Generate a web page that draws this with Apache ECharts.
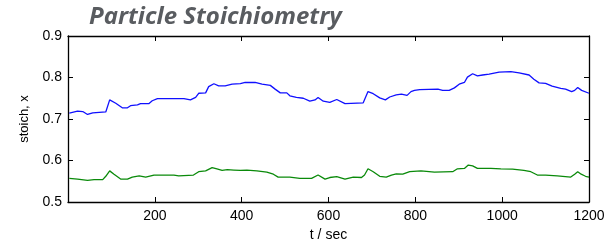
<!DOCTYPE html>
<html>
<head>
<meta charset="utf-8">
<script src="https://cdn.jsdelivr.net/npm/echarts@6/dist/echarts.min.js"></script>
<style>
html, body { margin: 0; padding: 0; background: #fff; }
#chartmain { width: 613px; height: 242px; }
</style>
</head>
<body>
<div id="chartmain"></div>
<script>
// values
var xTicks = [0, 200, 400, 600, 800, 1000, 1200];
var yTicks = [0.5, 0.6, 0.7, 0.8, 0.9];

var tBlue = [3, 22, 34, 45, 57, 87, 96, 110, 125, 137, 144, 160, 167, 186, 194, 206, 267, 282, 294, 301, 317, 324, 336, 347, 362, 378, 397,
	408, 431, 447, 466, 477, 489, 504, 511, 526, 542, 557, 569, 576, 588, 603, 619, 638, 680, 691, 703, 718, 731, 741, 756, 768, 781, 790,
	798, 810, 852, 863, 878, 890, 901, 913, 920, 932, 943, 955, 970, 993, 1020, 1039, 1062, 1073, 1085, 1100, 1115, 1135, 1146, 1160,
	1167, 1174, 1183, 1200];
var vBlue = [0.714, 0.719, 0.718, 0.711, 0.715, 0.717, 0.746, 0.738, 0.727, 0.727, 0.732, 0.734, 0.737, 0.737, 0.744, 0.749, 0.749, 0.746,
	0.752, 0.762, 0.763, 0.778, 0.785, 0.780, 0.780, 0.784, 0.785,
	0.788, 0.788, 0.784, 0.781, 0.772, 0.763, 0.763, 0.756, 0.752, 0.750, 0.743, 0.746, 0.752, 0.743, 0.740, 0.747, 0.737, 0.739, 0.766,
	0.761, 0.751, 0.746, 0.753, 0.758, 0.760, 0.757, 0.766,
	0.769, 0.771, 0.772, 0.769, 0.769, 0.775, 0.784, 0.788, 0.801, 0.809, 0.804, 0.806, 0.808, 0.813, 0.814, 0.811, 0.806, 0.796, 0.787,
	0.786, 0.779, 0.774, 0.772, 0.766, 0.769, 0.776, 0.769, 0.762];

var tGreen = [3, 22, 45, 60, 80, 87, 96, 106, 122, 137, 148, 164, 179, 198, 244, 255, 289, 301, 317, 332, 343, 355, 367, 382, 397, 412,
	435, 458, 473, 484, 511, 534, 561, 576, 592, 603, 619, 638, 657, 676, 683, 691, 703, 718, 733, 745, 756, 771, 787, 813, 844, 886,
	897, 913, 922, 932, 943, 955, 974, 997, 1024, 1050, 1066, 1081, 1100, 1127, 1158, 1167, 1174, 1182, 1192, 1200];
var vGreen = [0.557, 0.555, 0.552, 0.554, 0.554, 0.562, 0.575, 0.567, 0.555, 0.555, 0.560, 0.563, 0.560, 0.565, 0.565, 0.563, 0.565,
	0.573, 0.575, 0.583, 0.580, 0.576, 0.578, 0.577, 0.576, 0.577,
	0.575, 0.572, 0.567, 0.560, 0.560, 0.557, 0.557, 0.565, 0.555, 0.559, 0.561, 0.555, 0.560, 0.559, 0.565, 0.580, 0.573, 0.562, 0.560,
	0.565, 0.568, 0.567, 0.573, 0.575, 0.572, 0.573,
	0.580, 0.581, 0.589, 0.587, 0.581, 0.581, 0.581, 0.580, 0.579, 0.576, 0.573, 0.565, 0.565, 0.563, 0.560, 0.567, 0.573, 0.567, 0.562,
	0.560];

function pairs(t, v) {
	var out = [];
	for (var i = 0; i < t.length; i++) {
		out.push([t[i], v[i]]);
	}
	return out;
}

var font = 'Liberation Sans, Arial, sans-serif';
var tick = { show: true, inside: true, length: 5, lineStyle: { color: '#000', width: 1 } };
var line = { show: true, onZero: false, lineStyle: { color: '#000', width: 1.3 } };

var option = {
	animation: false,
	title: {
		text: 'Particle Stoichiometry',
		left: 84,
		top: 0,
		textStyle: {
			fontFamily: 'Open Sans, sans-serif',
			fontStyle: 'italic',
			fontWeight: 'bold',
			fontSize: 24,
			color: '#595c60'
		}
	},
	grid: { left: 68, right: 24, top: 36, bottom: 40, outerBoundsMode: 'none' },
	xAxis: [{
		type: 'value',
		min: xTicks[0],
		max: xTicks[xTicks.length - 1],
		interval: 200,
		name: 't / sec',
		nameLocation: 'middle',
		nameGap: 25,
		nameTextStyle: { fontFamily: font, fontSize: 14, color: '#000' },
		axisLine: line,
		axisTick: tick,
		splitLine: { show: false },
		axisLabel: {
			showMinLabel: false, fontFamily: font, fontSize: 14, color: '#000', margin: 7,
			formatter: function (v) { return String(v); }
		}
	}, {
		type: 'value',
		position: 'top',
		min: xTicks[0],
		max: xTicks[xTicks.length - 1],
		interval: 200,
		axisLine: line,
		axisTick: tick,
		splitLine: { show: false },
		axisLabel: { show: false }
	}],
	yAxis: [{
		type: 'value',
		min: yTicks[0],
		max: yTicks[yTicks.length - 1],
		interval: 0.1,
		name: 'stoich, x',
		nameLocation: 'middle',
		nameGap: 37,
		nameTextStyle: { fontFamily: font, fontSize: 13, color: '#000' },
		axisLine: line,
		axisTick: tick,
		splitLine: { show: false },
		axisLabel: { fontFamily: font, fontSize: 14, color: '#000', margin: 6, formatter: function (v) { return v.toFixed(1); } }
	}, {
		type: 'value',
		position: 'right',
		min: yTicks[0],
		max: yTicks[yTicks.length - 1],
		interval: 0.1,
		axisLine: line,
		axisTick: tick,
		splitLine: { show: false },
		axisLabel: { show: false }
	}],
	series: [{
		name: 'blue',
		type: 'line',
		data: pairs(tBlue, vBlue),
		showSymbol: false,
		lineStyle: { color: '#1010ff', width: 1.3 }
	}, {
		name: 'green',
		type: 'line',
		data: pairs(tGreen, vGreen),
		showSymbol: false,
		lineStyle: { color: '#0a8a0a', width: 1.3 }
	}]
};

var myChart = echarts.init(document.getElementById('chartmain'));
myChart.setOption(option);
</script>
</body>
</html>
